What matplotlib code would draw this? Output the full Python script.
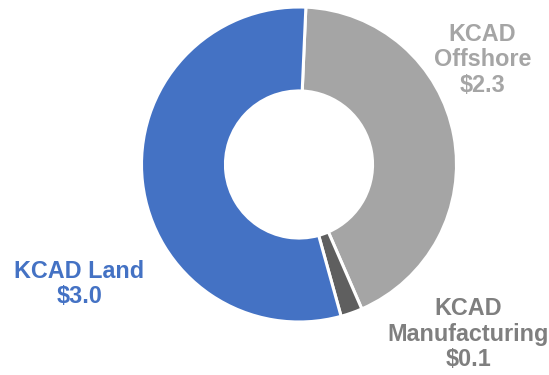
import matplotlib
matplotlib.use("Agg")
import matplotlib.pyplot as plt

categories = ["KCAD Offshore", "KCAD Manufacturing", "KCAD Land"]
values = [2.31, 0.12, 2.97]
value_labels = ["$2.3", "$0.1", "$3.0"]
slice_colors = ["#A5A5A5", "#5F5F5F", "#4472C4"]
label_colors = ["#A5A5A5", "#7F7F7F", "#4472C4"]
label_texts = ["KCAD\nOffshore\n$2.3", "KCAD\nManufacturing\n$0.1", "KCAD Land\n$3.0"]

W, H = 549, 375
fig = plt.figure(figsize=(W / 100, H / 100), dpi=100)
cx, cy, R = 299, 164.5, 157.5
ax = fig.add_axes([(cx - R) / W, (H - cy - R) / H, 2 * R / W, 2 * R / H])
ax.pie(values, colors=slice_colors, startangle=87.5, counterclock=False,
       radius=1.0, wedgeprops=dict(width=0.533, edgecolor="white", linewidth=2.2))
ax.set_xlim(-1.0, 1.0)
ax.set_ylim(-1.0, 1.0)
ax.set_aspect("equal")
ax.axis("off")

label_pos = [(482.5, 60), (468.5, 334), (79.5, 284)]
for txt, col, (x, y) in zip(label_texts, label_colors, label_pos):
    fig.text(x / W, 1 - y / H, txt, ha="center", va="center", color=col,
             fontsize=16.8, fontweight="bold", family="Liberation Sans",
             linespacing=1.12, multialignment="center")

fig.savefig("out.png", dpi=100)
